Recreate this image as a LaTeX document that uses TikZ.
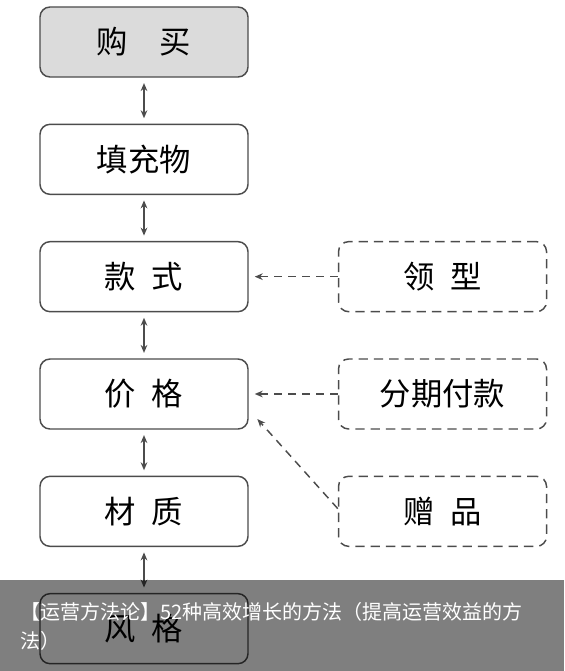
\documentclass[tikz,border=0pt]{standalone}
\usepackage{fontspec}
\setmainfont{Noto Sans CJK SC}
\usetikzlibrary{positioning,arrows.meta}

\tikzset{
    stagebox/.style={draw=black!70, line width=1.1pt, rounded corners=7.5pt,
        minimum width=156pt, minimum height=52.5pt, font=\fontsize{23.5}{26}\selectfont},
    optionbox/.style={stagebox, dashed, dash pattern=on 7pt off 4.5pt},
    linkarrow/.style={black!70, line width=1.1pt, {Stealth[length=6pt,width=5pt]}-{Stealth[length=6pt,width=5pt]}},
    hintarrow/.style={black!70, line width=1.1pt, dash pattern=on 6pt off 4.5pt, -{Stealth[length=6pt,width=5pt]}},
}

\begin{document}
\begin{tikzpicture}[node distance=34.4pt and 66.8pt]
    \useasboundingbox (-108pt,31.5pt) rectangle (315pt,-471.75pt);

    % main chain
    \node [stagebox, fill=black!14] (buy) {购\hspace{1em}买};
    \node [stagebox, below=of buy] (filler) {填充物};
    \node [stagebox, below=of filler] (style) {款\hspace{0.5em}式};
    \node [stagebox, below=of style] (price) {价\hspace{0.5em}格};
    \node [stagebox, below=of price] (material) {材\hspace{0.5em}质};
    \node [stagebox, below=of material] (look) {风\hspace{0.5em}格};

    % options on the right
    \node [optionbox, right=of style] (collar) {领\hspace{0.5em}型};
    \node [optionbox, right=of price] (install) {分期付款};
    \node [optionbox, right=of material] (gift) {赠\hspace{0.5em}品};

    \foreach \a/\b in {buy/filler, filler/style, style/price, price/material, material/look}
        \draw [linkarrow] ([yshift=-4pt]\a.south) -- ([yshift=4pt]\b.north);

    \draw [hintarrow] (collar.west) -- ([xshift=4.5pt]style.east);
    \draw [hintarrow] (install.west) -- ([xshift=4.5pt]price.east);
    \draw [hintarrow] ([yshift=2pt]gift.west) -- ([xshift=6.5pt,yshift=8pt]price.south east);

    % caption banner
    \fill [black, opacity=0.5] (-108pt,-403.5pt) rectangle (315pt,-471.75pt);
    \node [anchor=west, text=white, font=\fontsize{15}{18}\selectfont, inner sep=0pt] (capA) at (-93pt,-427.5pt) {【运营方法论】52种高效增长的方法（提高运营效益的方};
    \node [anchor=west, text=white, font=\fontsize{15}{18}\selectfont, inner sep=0pt] (capB) at (-93pt,-449pt) {法）};
\end{tikzpicture}
\end{document}
